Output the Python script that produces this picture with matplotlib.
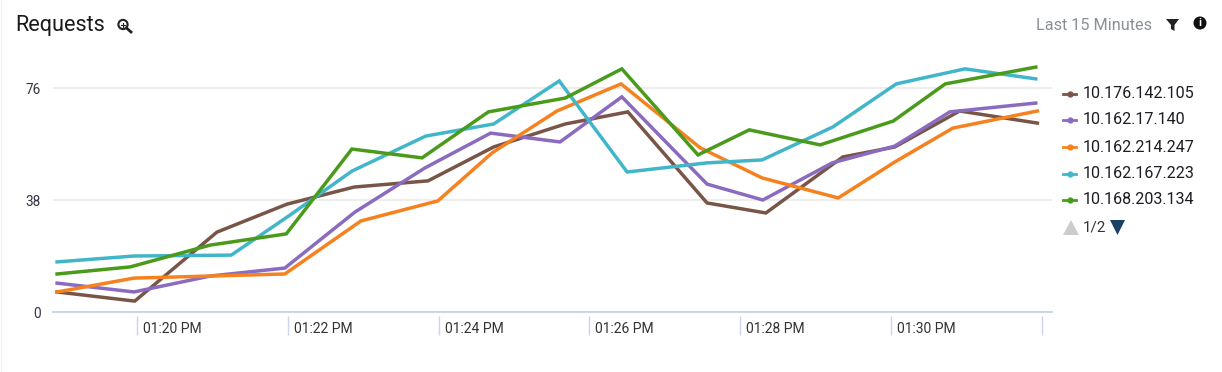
import matplotlib
matplotlib.use('Agg')
import matplotlib.pyplot as plt
from matplotlib.patches import Circle, Polygon

plt.rcParams['font.family'] = ['Roboto', 'DejaVu Sans']

# minutes after 01:00 PM, every host reports at slightly different times
brown_t = [18.94, 19.97, 21.06, 21.99, 22.88, 23.86, 24.73, 25.68, 26.51, 27.56, 28.34, 29.36, 30.05, 30.91, 31.94]
brown_v = [6.8, 3.7, 27.1, 36.6, 42.4, 44.5, 56, 63.8, 67.9, 37, 33.6, 52.6, 56, 68.2, 64.1]
purple_t = [18.94, 19.96, 20.97, 21.96, 22.89, 23.82, 24.69, 25.61, 26.43, 27.56, 28.3, 29.22, 30.05, 30.78, 31.92]
purple_v = [9.8, 6.8, 12.2, 14.9, 33.9, 48.9, 60.7, 57.7, 73, 43.4, 38, 50.6, 56.3, 67.9, 70.9]
orange_t = [18.94, 19.96, 20.97, 21.96, 22.97, 23.99, 24.71, 25.57, 26.42, 27.47, 28.29, 29.3, 30.05, 30.82, 31.94]
orange_v = [6.8, 11.5, 12.2, 12.9, 30.9, 37.7, 54, 68.2, 77.4, 55.7, 45.5, 38.7, 50.9, 62.4, 68.2]
teal_t = [18.94, 19.96, 21.25, 22.03, 22.85, 23.83, 24.73, 25.6, 26.5, 27.56, 28.29, 29.23, 30.07, 30.98, 31.92]
teal_v = [17, 19, 19.3, 32.9, 47.8, 59.7, 63.8, 78.4, 47.5, 50.6, 51.6, 62.8, 77.4, 82.5, 79.1]
green_t = [18.94, 19.91, 20.97, 21.98, 22.85, 23.78, 24.66, 25.68, 26.43, 27.44, 28.12, 29.06, 30.03, 30.72, 31.92]
green_v = [12.9, 15.3, 22.7, 26.5, 55.3, 52.3, 67.9, 72.6, 82.5, 53.3, 61.8, 56.7, 64.8, 77.4, 83.1]

hosts = ['10.176.142.105', '10.162.17.140', '10.162.214.247', '10.162.167.223', '10.168.203.134']
colors = ['#795548', '#8a6bbf', '#f5821f', '#42b6c9', '#4a9a1c']
y_ticks = [0, 38, 76]
x_ticks = [20, 22, 24, 26, 28, 30, 32]
x_labels = ['01:20 PM', '01:22 PM', '01:24 PM', '01:26 PM', '01:28 PM', '01:30 PM', '']

W, H = 1222, 372
fig = plt.figure(figsize=(W / 100, H / 100), dpi=100)
ax = fig.add_axes([53 / W, 1 - 312 / H, 999 / W, 262 / H])

series = [(brown_t, brown_v), (purple_t, purple_v), (orange_t, orange_v), (teal_t, teal_v), (green_t, green_v)]
for (t, v), c in zip(series, colors):
    ax.plot(t, v, color=c, lw=2.5, solid_joinstyle='miter', clip_on=False)

ax.set_xlim(18.886, 32.135)
ax.set_ylim(0, 88.9)
for s in ['top', 'left', 'right']:
    ax.spines[s].set_visible(False)
ax.spines['bottom'].set_color('#c5d3e8')
ax.spines['bottom'].set_linewidth(1.3)
ax.set_yticks(y_ticks)
ax.set_yticklabels([str(v) for v in y_ticks], fontsize=9.8, color='#333344')
ax.tick_params(axis='y', length=0, pad=9)
ax.grid(axis='y', color='#ececec', lw=1.3)
ax.set_axisbelow(True)
ax.set_xticks(x_ticks)
ax.set_xticklabels(x_labels, fontsize=10, color='#333333', ha='left')
ax.tick_params(axis='x', length=0, pad=7)
# ticks start a little under the axis line
ax.vlines(x_ticks, -23 / 262, -4 / 262, transform=ax.get_xaxis_transform(), color='#ccd6eb', lw=1, clip_on=False)
for lab in ax.get_xticklabels():
    lab.set_transform(lab.get_transform() + matplotlib.transforms.ScaledTranslation(6 / 100, 0, fig.dpi_scale_trans))

# overlay in pixel coords for title row, icons and the legend
ov = fig.add_axes([0, 0, 1, 1], zorder=5)
ov.set_xlim(0, W)
ov.set_ylim(H, 0)
ov.axis('off')
ov.patch.set_alpha(0)

ov.plot([1, 1], [0, H], color='#f2f2f2', lw=1)
ov.text(15, 25.5, 'Requests', fontsize=15.6, color='#1a1a1a', va='center', ha='left')
ov.text(1036, 25, 'Last 15 Minutes', fontsize=11.7, color='#8a8f98', va='center', ha='left')

# zoom icon
ov.add_patch(Circle((123, 24.5), 4.6, fill=False, ec='#222222', lw=1.5))
ov.plot([126.5, 131], [28, 32], color='#222222', lw=2)
ov.plot([121, 125], [24.5, 24.5], color='#222222', lw=0.8)
ov.plot([123, 123], [22.5, 26.5], color='#222222', lw=0.8)
# filter icon
ov.add_patch(Polygon([(1166, 19), (1179, 19), (1174.5, 25), (1174.5, 31), (1171, 29), (1171, 25)], color='#222222', lw=0))
# info icon
ov.add_patch(Circle((1200, 23), 6.5, color='#111111', lw=0))
ov.text(1200, 23.3, 'i', fontsize=8, fontweight='bold', color='white', ha='center', va='center')

legend_y = [93.5, 120, 147, 173.5, 200]
for y, name, c in zip(legend_y, hosts, colors):
    ov.plot([1063, 1076], [y, y], color=c, lw=2)
    ov.plot([1069.5], [y], marker='o', markersize=3.5, color=c)
    ov.text(1083, y, name, fontsize=11.6, color='#1c1c24', va='center', ha='left')

ov.add_patch(Polygon([(1063, 235), (1079, 235), (1071, 220)], color='#cccccc', lw=0))
ov.text(1083, 228, '1/2', fontsize=11, color='#333333', va='center', ha='left')
ov.add_patch(Polygon([(1110, 220), (1125, 220), (1117.5, 235)], color='#1c3f66', lw=0))

fig.savefig('out.png', dpi=100)
